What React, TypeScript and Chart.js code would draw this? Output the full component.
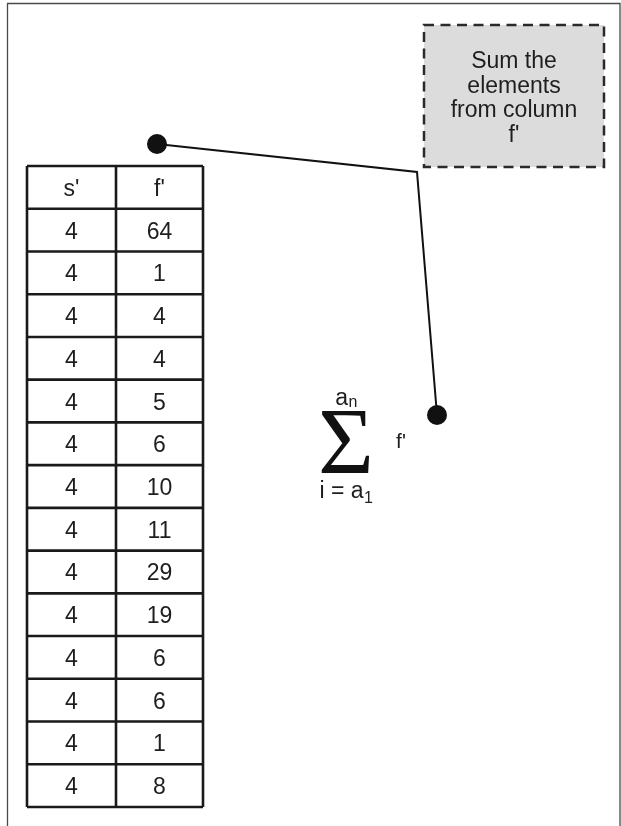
import React, { useEffect, useRef } from "react";
import { Chart, registerables } from "chart.js";

Chart.register(...registerables);

// ---- data ----
const tableHeaders = ["s'", "f'"];
const sValues = [4, 4, 4, 4, 4, 4, 4, 4, 4, 4, 4, 4, 4, 4];
const fValues = [64, 1, 4, 4, 5, 6, 10, 11, 29, 19, 6, 6, 1, 8];
const noteLines = ["Sum the", "elements", "from column", "f'"];
const sumUpper = ["a", "n"];
const sumLower = ["i = a", "1"];
const sumSymbol = "\u03A3";
const summand = "f'";

// ---- layout (diagram units = page pixels) ----
const PAGE_W = 621;
const PAGE_H = 826;
const frame = { left: 7.5, top: 3.5, right: 620 };
const table = { left: 27, right: 203, divider: 116, top: 166, bottom: 807 };
const noteBox = { left: 424, right: 604, top: 25, bottom: 167, cx: 514, firstBaseline: 68, lineStep: 24.7 };
const connectorX = [157, 417, 437];
const connectorY = [144, 172, 415];
const connectorRadius = [10, 0, 10];
const sigma = { cx: 346, baseline: 474, upperBaseline: 405, lowerBaseline: 498 };
const summandPos = { cx: 401, baseline: 448 };

const SANS = "'Liberation Sans', Arial, Helvetica, sans-serif";
const SERIF = "'Liberation Serif', 'Times New Roman', serif";
const INK = "#1e1e1e";

function drawSubGroup(
  ctx: CanvasRenderingContext2D,
  main: string,
  sub: string,
  cx: number,
  baseline: number,
  mainFont: string,
  subFont: string,
  drop: number
) {
  ctx.font = mainFont;
  const w1 = ctx.measureText(main).width;
  ctx.font = subFont;
  const w2 = ctx.measureText(sub).width;
  const start = cx - (w1 + w2) / 2;
  ctx.textAlign = "left";
  ctx.textBaseline = "alphabetic";
  ctx.font = mainFont;
  ctx.fillText(main, start, baseline);
  ctx.font = subFont;
  ctx.fillText(sub, start + w1 + 0.5, baseline + drop);
}

const diagramPlugin = {
  id: "diagram",
  beforeDatasetsDraw(chart: any) {
    const ctx: CanvasRenderingContext2D = chart.ctx;
    const xs = chart.scales.x;
    const ys = chart.scales.y;
    const X = (v: number) => xs.getPixelForValue(v);
    const Y = (v: number) => ys.getPixelForValue(v);

    ctx.save();

    // outer frame (no bottom edge)
    ctx.strokeStyle = "#4a4a4a";
    ctx.lineWidth = 1.3;
    ctx.beginPath();
    ctx.moveTo(X(frame.left), Y(PAGE_H));
    ctx.lineTo(X(frame.left), Y(frame.top));
    ctx.lineTo(X(frame.right), Y(frame.top));
    ctx.lineTo(X(frame.right), Y(PAGE_H));
    ctx.stroke();

    // note box
    const bx = X(noteBox.left);
    const by = Y(noteBox.top);
    const bw = X(noteBox.right) - bx;
    const bh = Y(noteBox.bottom) - by;
    ctx.fillStyle = "#dcdcdc";
    ctx.fillRect(bx, by, bw, bh);
    ctx.setLineDash([10, 6.5]);
    ctx.strokeStyle = "#2a2a2a";
    ctx.lineWidth = 2.5;
    ctx.strokeRect(bx, by, bw, bh);
    ctx.setLineDash([]);
    ctx.fillStyle = INK;
    ctx.font = `23px ${SANS}`;
    ctx.textAlign = "center";
    ctx.textBaseline = "alphabetic";
    noteLines.forEach((line, i) => {
      ctx.fillText(line, X(noteBox.cx), Y(noteBox.firstBaseline + i * noteBox.lineStep));
    });

    // table
    const rows = [tableHeaders, ...sValues.map((s, i) => [String(s), String(fValues[i])])];
    const rowH = (table.bottom - table.top) / rows.length;
    const tl = X(table.left);
    const tr = X(table.right);
    const td = X(table.divider);
    ctx.strokeStyle = "#1a1a1a";
    ctx.lineWidth = 2.6;
    ctx.beginPath();
    for (let i = 0; i <= rows.length; i++) {
      const yy = Y(table.top + i * rowH);
      ctx.moveTo(tl, yy);
      ctx.lineTo(tr, yy);
    }
    ctx.moveTo(tl, Y(table.top));
    ctx.lineTo(tl, Y(table.bottom));
    ctx.moveTo(td, Y(table.top));
    ctx.lineTo(td, Y(table.bottom));
    ctx.moveTo(tr, Y(table.top));
    ctx.lineTo(tr, Y(table.bottom));
    ctx.stroke();

    ctx.fillStyle = INK;
    ctx.font = `23px ${SANS}`;
    ctx.textAlign = "center";
    ctx.textBaseline = "alphabetic";
    const c1 = (table.left + table.divider) / 2;
    const c2 = (table.divider + table.right) / 2;
    rows.forEach((r, i) => {
      const base = Y(table.top + i * rowH + rowH / 2 + 8.5);
      ctx.fillText(r[0], X(c1), base);
      ctx.fillText(r[1], X(c2), base);
    });

    // summation
    ctx.fillStyle = "#111";
    ctx.font = `96px ${SERIF}`;
    ctx.textAlign = "center";
    ctx.fillText(sumSymbol, X(sigma.cx), Y(sigma.baseline));
    ctx.fillStyle = INK;
    drawSubGroup(ctx, sumUpper[0], sumUpper[1], X(sigma.cx), Y(sigma.upperBaseline), `23px ${SANS}`, `16px ${SANS}`, 2);
    drawSubGroup(ctx, sumLower[0], sumLower[1], X(sigma.cx), Y(sigma.lowerBaseline), `23px ${SANS}`, `16px ${SANS}`, 5);
    ctx.font = `21px ${SANS}`;
    ctx.textAlign = "center";
    ctx.fillText(summand, X(summandPos.cx), Y(summandPos.baseline));

    ctx.restore();
  },
};

export default function App() {
  const canvasRef = useRef<HTMLCanvasElement | null>(null);

  useEffect(() => {
    const canvas = canvasRef.current;
    if (!canvas) return;
    const chart = new Chart(canvas, {
      type: "scatter",
      data: {
        datasets: [
          {
            data: connectorX.map((x, i) => ({ x, y: connectorY[i] })),
            showLine: true,
            borderColor: "#111",
            borderWidth: 2,
            pointRadius: connectorRadius,
            pointBackgroundColor: "#111",
            pointBorderColor: "#111",
            pointBorderWidth: 0,
            pointHoverRadius: connectorRadius,
            clip: false,
          } as any,
        ],
      },
      options: {
        responsive: false,
        devicePixelRatio: 1,
        animation: false,
        events: [],
        layout: { padding: 0, autoPadding: false },
        plugins: {
          legend: { display: false },
          tooltip: { enabled: false },
          title: { display: false },
        },
        scales: {
          x: { type: "linear", min: 0, max: PAGE_W, display: false },
          y: { type: "linear", min: 0, max: PAGE_H, reverse: true, display: false },
        },
      },
      plugins: [diagramPlugin],
    });
    return () => chart.destroy();
  }, []);

  return (
    <div style={{ position: "absolute", left: 0, top: 0, width: PAGE_W, height: PAGE_H, background: "#fff" }}>
      <canvas ref={canvasRef} width={PAGE_W} height={PAGE_H} style={{ display: "block" }} />
    </div>
  );
}
